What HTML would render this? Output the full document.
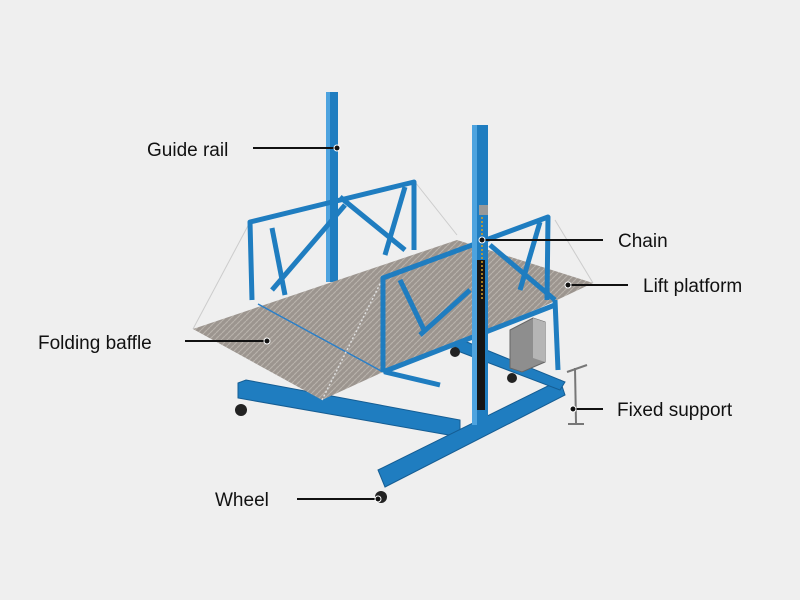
<!DOCTYPE html>
<html><head><style>
html,body{margin:0;padding:0;background:#efefef;}
svg{display:block}
text{font-family:"Liberation Sans",sans-serif;font-size:19px;fill:#111}
</style></head><body>
<svg width="800" height="600" viewBox="0 0 800 600" xmlns="http://www.w3.org/2000/svg">
<defs>
<pattern id="pl" width="6" height="6" patternUnits="userSpaceOnUse">
<rect width="6" height="6" fill="#9c958f"/>
<path d="M0 3 L3 0 M3 6 L6 3" stroke="#b8b2ab" stroke-width="1.2"/>
</pattern>
</defs>
<rect width="800" height="600" fill="#efefef"/>
<!-- base beams -->
<g fill="#1f7dc0" stroke="#155d93" stroke-width="1">
<polygon points="238,383 246,380 460,420 460,437 238,398"/>
<polygon points="378,470 560,380 565,395 385,487"/>
<polygon points="455,340 462,340 565,382 560,390 455,350"/>
</g>
<!-- wheels -->
<g fill="#222"><circle cx="241" cy="410" r="6"/><circle cx="381" cy="497" r="6"/><circle cx="455" cy="352" r="5"/><circle cx="512" cy="378" r="5"/></g>
<!-- left mast -->
<rect x="326" y="92" width="12" height="190" fill="#1f7dc0"/>
<rect x="326" y="92" width="4" height="190" fill="#4da3df"/>
<!-- cables -->
<g stroke="#ccc" stroke-width="1" fill="none">
<line x1="193" y1="329" x2="250" y2="222"/><line x1="415" y1="182" x2="457" y2="235"/>
<line x1="555" y1="220" x2="593" y2="283"/></g>
<!-- back railing -->
<g stroke="#1f7dc0" stroke-width="5" fill="none" stroke-linejoin="round">
<polyline points="252,300 250,222 414,182 414,250"/>
<line x1="272" y1="228" x2="285" y2="295"/>
<line x1="272" y1="290" x2="345" y2="205"/>
<line x1="340" y1="197" x2="405" y2="250"/>
<line x1="405" y1="187" x2="385" y2="255"/>
</g>
<!-- deck -->
<polygon points="193,329 457,240 593,283 540,308 383,372 322,400" fill="url(#pl)"/>
<line x1="258" y1="304" x2="383" y2="372" stroke="#2a7fc8" stroke-width="1.5"/>
<line x1="322" y1="400" x2="383" y2="278" stroke="#ddd" stroke-width="1.5" stroke-dasharray="2,2"/>
<!-- front railing -->
<g stroke="#1f7dc0" stroke-width="5" fill="none" stroke-linejoin="round">
<polyline points="383,372 383,278 548,217 547,300"/>
<line x1="383" y1="372" x2="555" y2="305"/>
<line x1="400" y1="280" x2="425" y2="332"/>
<line x1="420" y1="335" x2="470" y2="290"/>
<line x1="540" y1="222" x2="520" y2="290"/>
<line x1="490" y1="245" x2="555" y2="300"/>
<polyline points="555,300 558,370"/>
<line x1="440" y1="385" x2="385" y2="372"/>
</g>
<!-- right mast -->
<rect x="472" y="125" width="16" height="300" fill="#1f7dc0"/>
<rect x="472" y="125" width="5" height="300" fill="#4da3df"/>
<rect x="477" y="260" width="8" height="150" fill="#151515"/>
<line x1="482" y1="205" x2="482" y2="300" stroke="#d8a020" stroke-width="1.5" stroke-dasharray="2,2"/>
<rect x="479" y="205" width="9" height="10" fill="#999"/>
<!-- control box -->
<polygon points="510,330 533,318 545,322 545,362 522,372 510,368" fill="#8e8e8e" stroke="#666"/>
<polygon points="533,318 545,322 545,362 533,358" fill="#b5b5b5"/>
<!-- fixed support -->
<g stroke="#777" stroke-width="2"><line x1="567" y1="372" x2="587" y2="365"/><line x1="575" y1="368" x2="576" y2="423"/><line x1="568" y1="424" x2="584" y2="424"/></g>
<!-- labels -->
<g stroke="#111" stroke-width="2">
<line x1="253" y1="148" x2="337" y2="148"/>
<line x1="482" y1="240" x2="603" y2="240"/>
<line x1="568" y1="285" x2="628" y2="285"/>
<line x1="185" y1="341" x2="267" y2="341"/>
<line x1="573" y1="409" x2="603" y2="409"/>
<line x1="297" y1="499" x2="378" y2="499"/>
</g>
<g fill="#111" stroke="#fff" stroke-width="1">
<circle cx="337" cy="148" r="3"/><circle cx="482" cy="240" r="3"/><circle cx="568" cy="285" r="3"/>
<circle cx="267" cy="341" r="3"/><circle cx="573" cy="409" r="3"/><circle cx="378" cy="499" r="3"/>
</g>
<text x="147" y="156">Guide rail</text>
<text x="618" y="247">Chain</text>
<text x="643" y="292">Lift platform</text>
<text x="38" y="349">Folding baffle</text>
<text x="617" y="416">Fixed support</text>
<text x="215" y="506">Wheel</text>
</svg>
</body></html>
